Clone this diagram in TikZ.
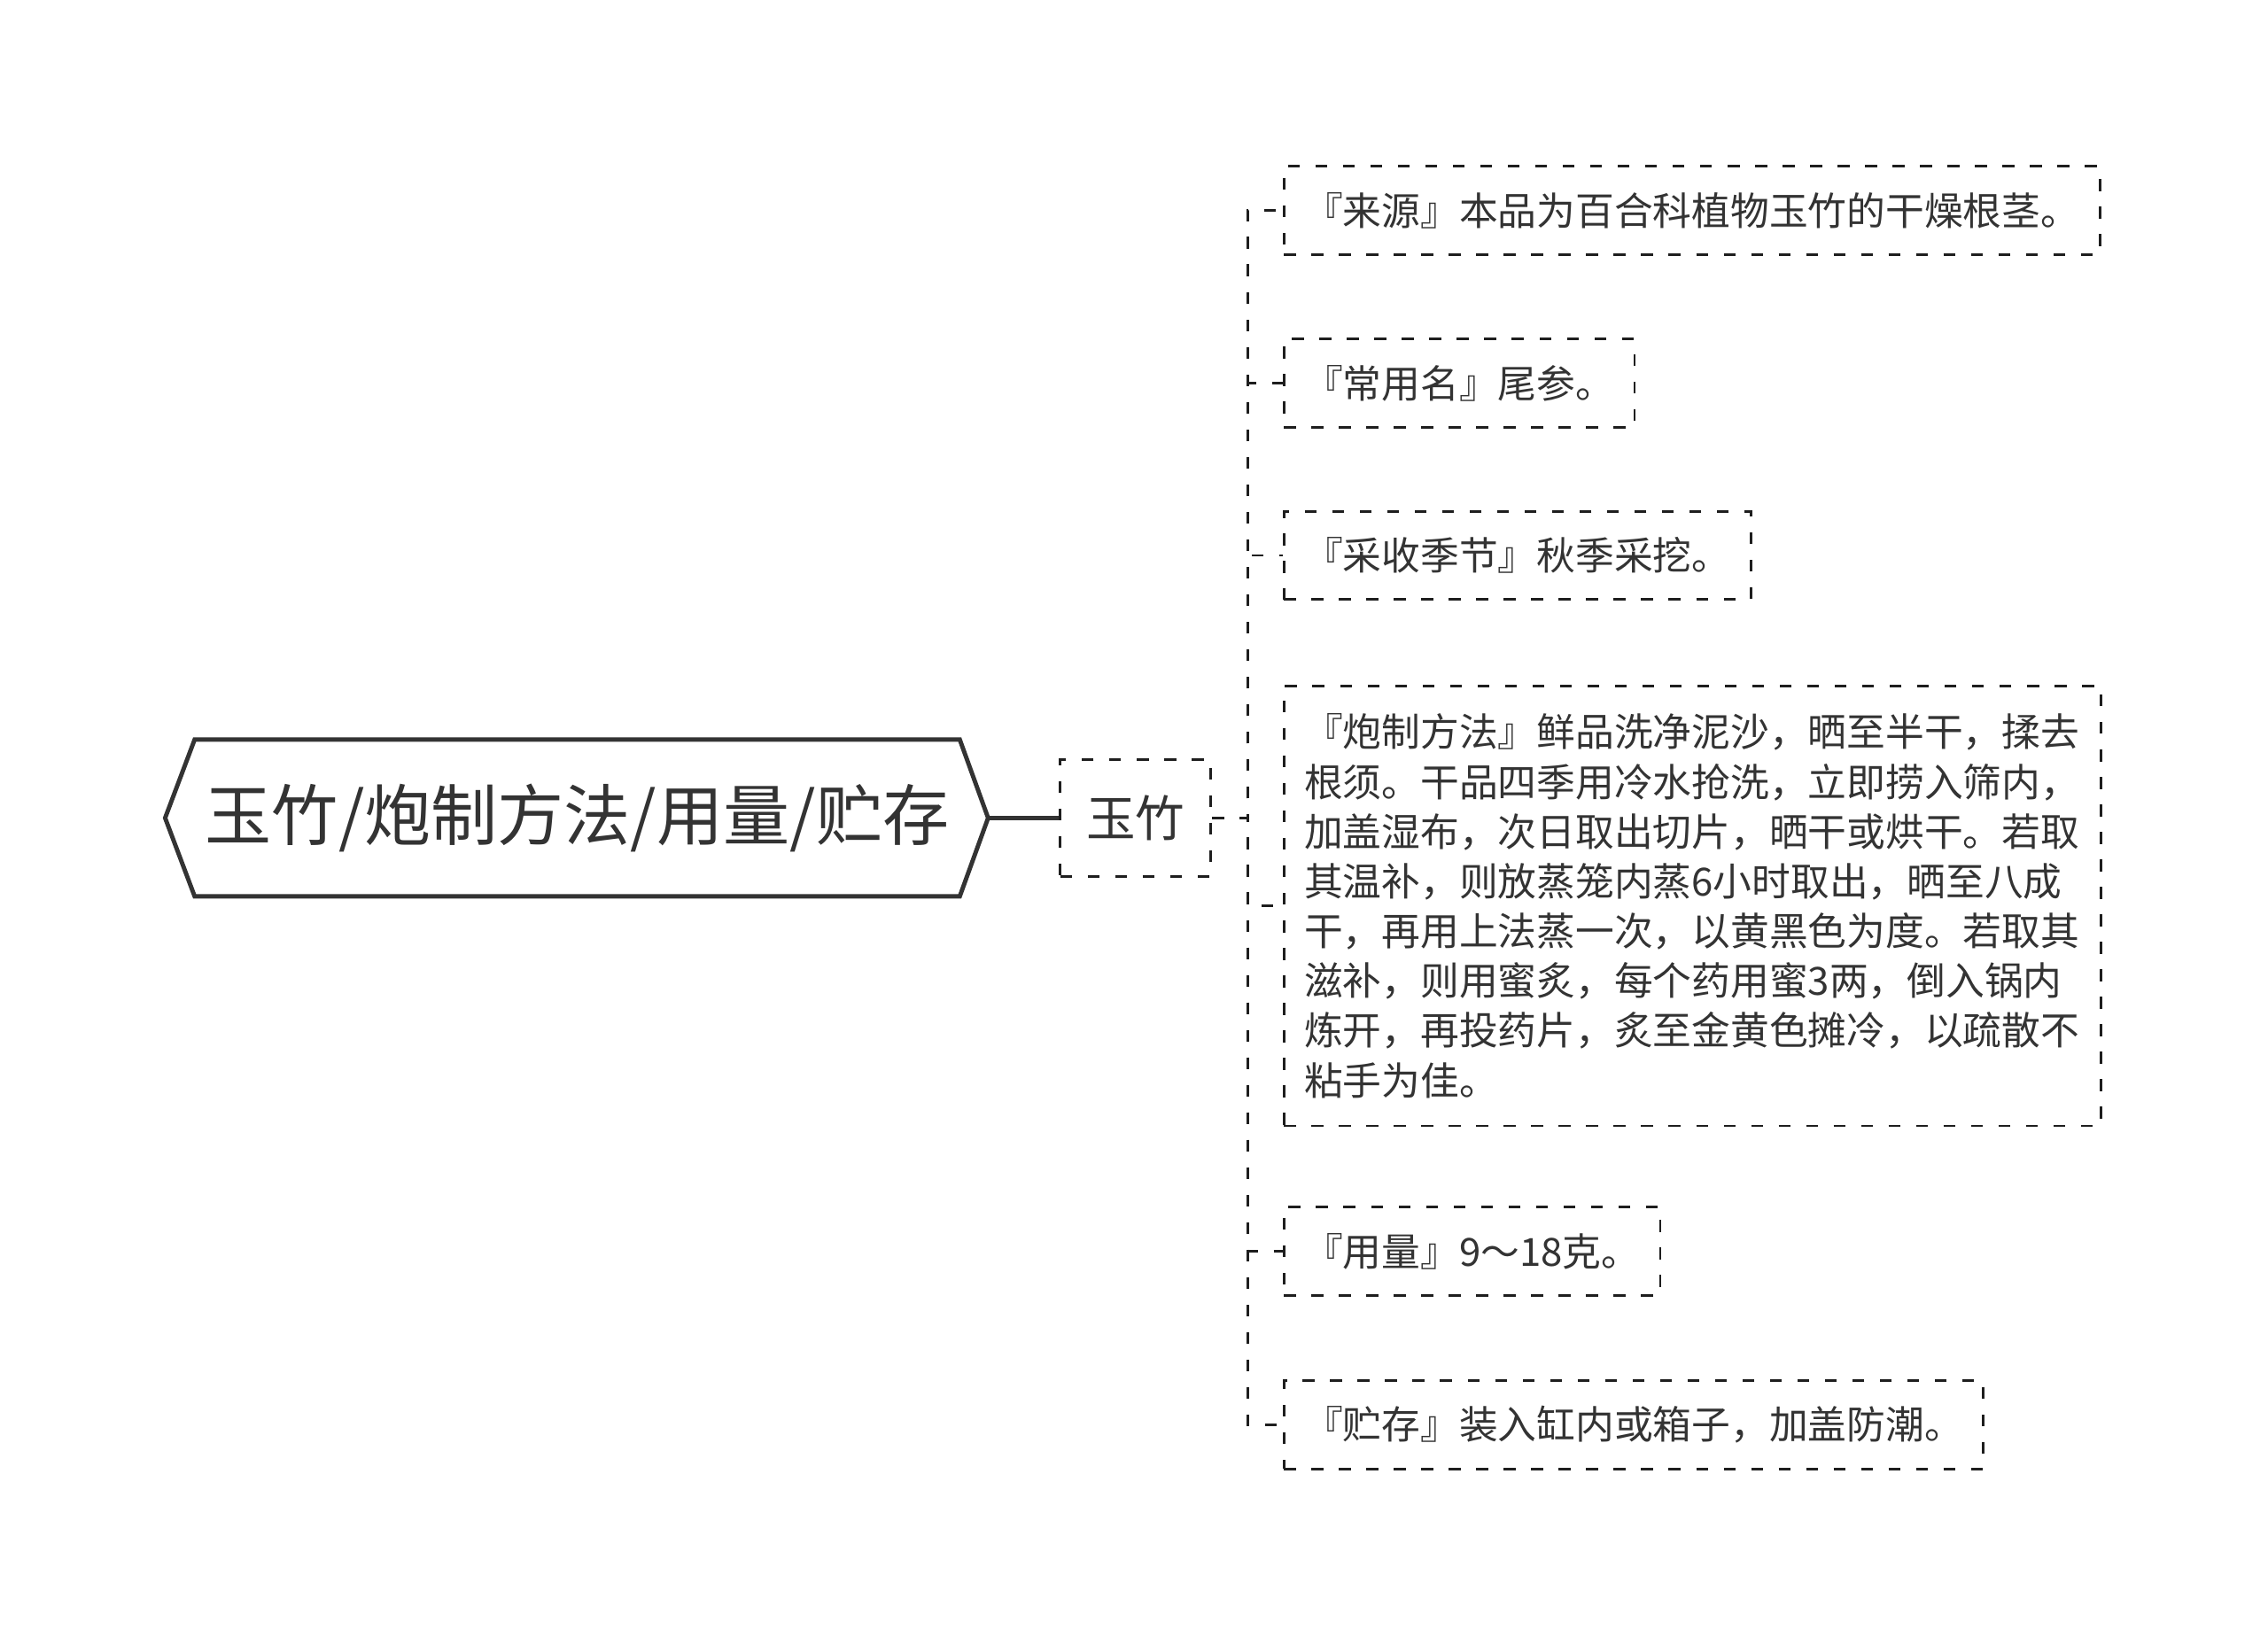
\documentclass[tikz,border=0pt]{standalone}
\usepackage{fontspec}
\setmainfont{Noto Sans CJK SC}
\usetikzlibrary{calc}
\definecolor{ink}{HTML}{333333}
\definecolor{dink}{HTML}{1E1E1E}
\begin{document}
\begin{tikzpicture}[x=1pt,y=-1pt,
  every node/.style={text=ink},
  dsh/.style={draw=dink, line width=1.75pt, dash pattern=on 8.2pt off 10.8pt},
  leaf/.style={dsh, anchor=west,
    inner xsep=14pt, inner ysep=0pt, minimum height=61pt, font=\fontsize{26.8}{34.4}\selectfont},
  yzbox/.style={dsh, minimum width=104pt, minimum height=81pt, inner sep=0pt, font=\fontsize{34}{40}\selectfont},
  conn/.style={dsh},
  hexline/.style={draw=ink, line width=3pt, line join=miter}
]
\useasboundingbox (0,0) rectangle (1567.8,1131.2);
\node[font=\fontsize{46}{50}\selectfont, minimum width=528.5pt, minimum height=108pt, inner sep=0pt] (title) at (399,565.5) {玉竹/炮制方法/用量/贮存};
\coordinate (tL) at ($(title.west)+(-20.4,0)$);
\coordinate (tR) at ($(title.east)+(19.6,0)$);
\draw[hexline] (title.north west) -- (title.north east) -- (tR) -- (title.south east) -- (title.south west) -- (tL) -- cycle;

\node[yzbox] (yz) at (785,565.5) {玉竹};
\draw[ink, line width=3pt] (tR) -- (yz.west);

\node[leaf] (c1) at (886.6,145.5) {『来源』本品为百合科植物玉竹的干燥根茎。};
\node[leaf] (c2) at (886.6,265) {『常用名』尾参。};
\node[leaf] (c3) at (886.6,384) {『采收季节』秋季采挖。};
\node[leaf, anchor=north west, minimum height=304pt, align=left, text width=537pt] (c4) at (886.6,473.5) {『炮制方法』鲜品洗净泥沙，晒至半干，揉去\\根须。干品四季用冷水抢洗，立即捞入筛内，\\加盖湿布，次日取出切片，晒干或烘干。若取\\其温补，则放蒸笼内蒸6小时取出，晒至八成\\干，再用上法蒸一次，以黄黑色为度。若取其\\滋补，则用蜜炙，每个药用蜜3两，倒入锅内\\炼开，再投药片，炙至金黄色摊冷，以疏散不\\粘手为佳。};
\node[leaf] (c5) at (886.6,865) {『用量』9～18克。};
\node[leaf] (c6) at (886.6,985) {『贮存』装入缸内或箱子，加盖防潮。};

\foreach \c in {c1,c2,c3,c4,c5,c6}
  \draw[conn] (yz.east) -- ++(24.5,0) |- (\c.west);
\end{tikzpicture}
\end{document}
